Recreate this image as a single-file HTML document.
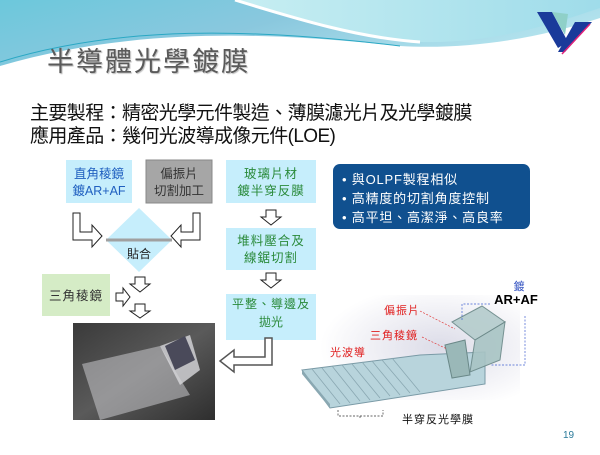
<!DOCTYPE html>
<html><head><meta charset="utf-8"><style>
body{margin:0;width:600px;height:450px;overflow:hidden;background:#fff;font-family:"Liberation Sans","Noto Sans CJK TC",sans-serif}
</style></head><body>
<svg width="600" height="450" viewBox="0 0 600 450" xmlns="http://www.w3.org/2000/svg" font-family="Liberation Sans, Noto Sans CJK TC, sans-serif">
<defs>
<linearGradient id="hb" x1="0" y1="0" x2="1" y2="0.4"><stop offset="0" stop-color="#6cc8dc"/><stop offset="0.5" stop-color="#8ac8de"/><stop offset="1" stop-color="#b5e4ee"/></linearGradient>
<linearGradient id="hb2" x1="0" y1="0" x2="1" y2="0"><stop offset="0" stop-color="#c7eef2"/><stop offset="1" stop-color="#9fdcea"/></linearGradient>
<radialGradient id="gd" cx="0.6" cy="0.5" r="0.6"><stop offset="0" stop-color="#dcdce8"/><stop offset="1" stop-color="#ffffff"/></radialGradient>
<linearGradient id="ph" x1="0" y1="0" x2="1" y2="1"><stop offset="0" stop-color="#3a3a3a"/><stop offset="0.5" stop-color="#5a5a5a"/><stop offset="1" stop-color="#2e2e2e"/></linearGradient>
</defs>
<path d="M0,0 H600 V18 C540,38 470,50 400,46 C300,36 150,22 0,66 Z" fill="url(#hb)"/>
<path d="M235,0 C300,20 360,38 420,42 C490,44 550,25 600,8 V0 Z" fill="url(#hb2)"/>
<path d="M235,0 C300,20 360,38 420,42" stroke="#fff" stroke-width="3" fill="none"/>
<path d="M0,62 C120,25 250,28 400,46" stroke="#2aa8c4" stroke-width="1" fill="none"/>
<path d="M0,68 C120,32 250,36 400,50" stroke="#fff" stroke-width="2" fill="none"/>
<polygon points="537,12 552,12 568,42 558,48" fill="#1a3a9a"/>
<polygon points="552,12 568,14 565,35" fill="#8fd0c8"/>
<polygon points="575,22 592,22 565,52 558,52" fill="#1a3a9a"/>
<line x1="590" y1="24" x2="562" y2="54" stroke="#e0207a" stroke-width="1.5"/>
<text x="47" y="71" font-size="27" fill="#5a5a5a" style="text-shadow:1px 1px 1px #bbb" letter-spacing="2">半導體光學鍍膜</text>
<text x="30" y="119" font-size="19" fill="#111" letter-spacing="-0.6">主要製程：精密光學元件製造、薄膜濾光片及光學鍍膜</text>
<text x="30" y="142" font-size="19" fill="#111" letter-spacing="-0.6">應用產品：幾何光波導成像元件(LOE)</text>
<rect x="66" y="160" width="66" height="43" fill="#c6eefc"/>
<text x="99" y="178" font-size="12.5" fill="#2060c0" text-anchor="middle">直角稜鏡</text>
<text x="99" y="195" font-size="12.5" fill="#2060c0" text-anchor="middle">鍍AR+AF</text>
<rect x="146" y="160" width="66" height="43" fill="#a6a6a6" stroke="#888"/>
<text x="179" y="178" font-size="12.5" fill="#333" text-anchor="middle">偏振片</text>
<text x="179" y="195" font-size="12.5" fill="#333" text-anchor="middle">切割加工</text>
<rect x="226" y="160" width="90" height="43" fill="#c6eefc"/>
<text x="271" y="178" font-size="12.5" fill="#2a8a3a" text-anchor="middle" letter-spacing="1">玻璃片材</text>
<text x="271" y="195" font-size="12.5" fill="#2a8a3a" text-anchor="middle" letter-spacing="1">鍍半穿反膜</text>
<rect x="226" y="228" width="90" height="42" fill="#c6eefc"/>
<text x="271" y="245" font-size="12.5" fill="#2a8a3a" text-anchor="middle" letter-spacing="1">堆料壓合及</text>
<text x="271" y="262" font-size="12.5" fill="#2a8a3a" text-anchor="middle" letter-spacing="1">線鋸切割</text>
<rect x="320" y="295" width="200" height="105" fill="url(#gd)"/>
<rect x="226" y="294" width="90" height="46" fill="#c6eefc"/>
<text x="271" y="308" font-size="12" fill="#2a8a3a" text-anchor="middle" letter-spacing="1">平整、導邊及</text>
<text x="271" y="326" font-size="12" fill="#2a8a3a" text-anchor="middle">拋光</text>
<polygon points="139,208 172,240 139,272 106,240" fill="#c6eefc"/>
<line x1="106" y1="240" x2="172" y2="240" stroke="#a0a0a0" stroke-width="3"/>
<text x="139" y="258" font-size="12" fill="#222" text-anchor="middle">貼合</text>
<rect x="42" y="274" width="68" height="42" fill="#d5ecc6"/>
<text x="76" y="300" font-size="12.5" fill="#333" text-anchor="middle" letter-spacing="1">三角稜鏡</text>
<g fill="#fff" stroke="#222" stroke-width="1">
<path d="M73,213 H80 V232 H92 V225 L102,236 L92,247 V240 H73 Z"/>
<path d="M200,213 H193 V232 H181 V225 L171,236 L181,247 V240 H200 Z"/>
<path d="M135,277 H145 V284 H150 L140,292 L130,284 H135 Z"/>
<path d="M135,304 H145 V311 H150 L140,318 L130,311 H135 Z"/>
<path d="M116,293 H123 V288 L130,297 L123,306 V301 H116 Z"/>
<path d="M266,210 H276 V217 H281 L271,225 L261,217 H266 Z"/>
<path d="M266,273 H276 V280 H281 L271,288 L261,280 H266 Z"/>
</g>
<path d="M265,338 H272 V365 H234 V372 L220,361 L234,350 V357 H265 Z" fill="#fff" stroke="#555" stroke-width="1.5"/>
<rect x="73" y="323" width="142" height="97" fill="url(#ph)"/>
<polygon points="82,364 160,346 190,395 100,420" fill="#c8c8cc" opacity="0.55"/>
<polygon points="160,346 190,335 200,370 180,385" fill="#d8d8dc" opacity="0.8"/>
<polygon points="165,346 185,336 195,360 175,370" fill="#4a4a5a"/>
<rect x="333" y="164" width="197" height="65" rx="7" fill="#10508f"/>
<text x="342" y="184" font-size="13" fill="#fff" letter-spacing="0.8">• 與OLPF製程相似</text>
<text x="342" y="203" font-size="13" fill="#fff" letter-spacing="0.8">• 高精度的切割角度控制</text>
<text x="342" y="222" font-size="13" fill="#fff" letter-spacing="0.8">• 高平坦、高潔淨、高良率</text>
<polygon points="302,370 420,355 485,352 485,384 330,408" fill="#b8d4dc" stroke="#7a9aa6"/>
<polygon points="302,370 330,404 330,408 302,374" fill="#8aa8b2"/>
<g stroke="#8aa8b2" stroke-width="0.8">
<line x1="312" y1="369" x2="340" y2="404"/><line x1="322" y1="368" x2="350" y2="403"/>
<line x1="332" y1="366" x2="360" y2="401"/><line x1="342" y1="365" x2="370" y2="400"/>
<line x1="352" y1="364" x2="380" y2="398"/><line x1="362" y1="362" x2="390" y2="396"/>
<line x1="372" y1="361" x2="400" y2="395"/><line x1="382" y1="360" x2="410" y2="393"/>
<line x1="392" y1="358" x2="420" y2="392"/>
</g>
<polygon points="445,345 465,340 470,375 452,378" fill="#9ab8b8" stroke="#6a8888"/>
<polygon points="452,322 482,306 505,322 475,340" fill="#b4cccc" stroke="#6a8888" opacity="0.9"/>
<polygon points="475,340 505,322 500,360 470,372" fill="#a8c4c4" stroke="#6a8888" opacity="0.9"/>
<g stroke="#e04040" stroke-dasharray="2,1.5" stroke-width="0.7" fill="none">
<line x1="420" y1="311" x2="455" y2="329"/><line x1="422" y1="337" x2="447" y2="349"/>
</g>
<g stroke="#4060d0" stroke-dasharray="2,1.5" stroke-width="0.7" fill="none">
<polyline points="462,320 462,304 490,304"/><polyline points="525,316 525,365 490,365"/>
</g>
<path d="M338,410 V416 H383 V410 M360,416 V419" stroke="#333" stroke-dasharray="2,1.5" fill="none" stroke-width="0.7"/>
<text x="519" y="290" font-size="11" fill="#3050c0" text-anchor="middle">鍍</text>
<text x="516" y="304" font-size="13" fill="#000" font-weight="bold" text-anchor="middle">AR+AF</text>
<text x="384" y="314" font-size="11" fill="#e02020" letter-spacing="1">偏振片</text>
<text x="370" y="339" font-size="11" fill="#e02020" letter-spacing="1">三角稜鏡</text>
<text x="330" y="356" font-size="11" fill="#e02020" letter-spacing="1">光波導</text>
<text x="402" y="423" font-size="11" fill="#111" letter-spacing="1">半穿反光學膜</text>
<text x="563" y="438" font-size="10" fill="#2a7a9a">19</text>
</svg>
</body></html>
